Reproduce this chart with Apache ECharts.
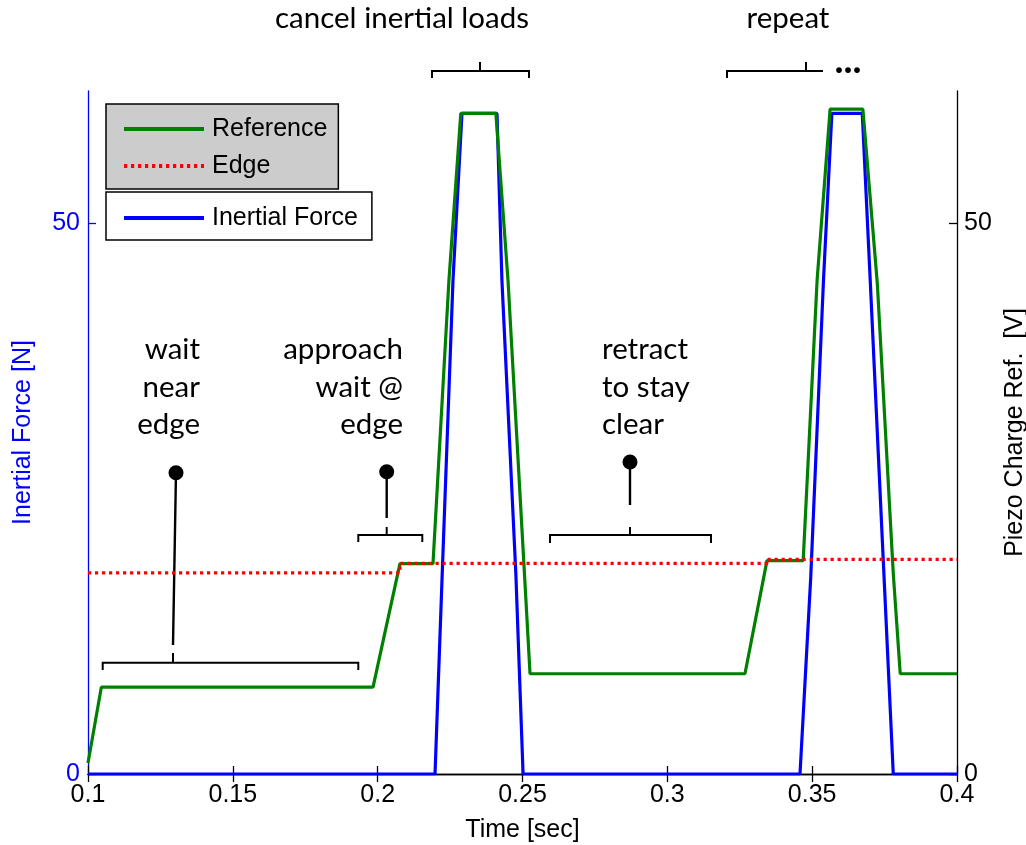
<!DOCTYPE html>
<html>
<head>
<meta charset="utf-8">
<script src="https://cdn.jsdelivr.net/npm/echarts/dist/echarts.min.js"></script>
<style>
  html, body { margin: 0; padding: 0; background: #ffffff; overflow: hidden; }
  #chart { width: 1026px; height: 845px; }
</style>
</head>
<body>
<div id="chart"></div>
<script>
// ---- data ----
const xTicks = [0.1, 0.15, 0.2, 0.25, 0.3, 0.35, 0.4];
const yTicks = [0, 50];

// Inertial Force [N] (left axis)
const forceT = [0.1, 0.2198, 0.2222, 0.2260, 0.2291, 0.2412, 0.2429, 0.2477, 0.2502,
                0.3458, 0.3495, 0.3539, 0.3568, 0.3673, 0.3700, 0.3746, 0.3780, 0.4];
const forceV = [0, 0, 17.56, 44.8, 59.96, 59.96, 44.8, 18.2, 0,
                0, 17.83, 44.8, 59.96, 59.96, 45.05, 19.1, 0, 0];

// Reference [V] (right axis)
const refT = [0.1, 0.1046, 0.1984, 0.2077, 0.2191, 0.2246, 0.2287, 0.2408, 0.2450, 0.2508, 0.2526,
              0.3268, 0.3344, 0.3469, 0.3517, 0.3562, 0.3675, 0.3725, 0.3780, 0.3804, 0.4];
const refV = [1.0, 7.88, 7.88, 19.1, 19.1, 44.8, 59.96, 59.96, 44.8, 17.6, 9.1,
              9.1, 19.37, 19.37, 44.8, 60.36, 60.36, 44.5, 18.2, 9.1, 9.1];

// Edge [V] (right axis)
const edgeT = [0.1, 0.2077, 0.2077, 0.3344, 0.3344, 0.4];
const edgeV = [18.26, 18.26, 19.12, 19.12, 19.48, 19.48];

const pairs = (t, v) => t.map((x, i) => [x, v[i]]);

const AXF = 'Liberation Sans, Arial, sans-serif';
const ANF = 'Lato, sans-serif';
const ANS = 29.5;

const chart = echarts.init(document.getElementById('chart'), null, { renderer: 'canvas' });

function txt(x, y, s, align, font) {
  return {
    type: 'text', x: x, y: y, silent: true,
    style: { text: s, fill: '#000', font: font || (ANS + 'px ' + ANF), textAlign: align, textVerticalAlign: 'middle' }
  };
}
function ln(pts, w) {
  return { type: 'polyline', silent: true, shape: { points: pts },
           style: { stroke: '#000', lineWidth: w || 2, fill: null } };
}
function dot(x, y) {
  return { type: 'circle', silent: true, shape: { cx: x, cy: y, r: 7.5 }, style: { fill: '#000' } };
}

const legendCommon = {
  orient: 'vertical', borderColor: '#000', borderWidth: 1.5,
  itemWidth: 80, itemHeight: 14, itemGap: 9, selectedMode: false,
  itemStyle: { opacity: 0 },
  lineStyle: { width: 4 },
  textStyle: { fontFamily: AXF, fontSize: 25, color: '#000', lineHeight: 28, padding: [0, 0, 0, 3] }
};

const option = {
  backgroundColor: '#ffffff',
  animation: false,
  grid: { left: 88, right: 69, top: 91, bottom: 71, containLabel: false, outerBoundsMode: 'none' },
  xAxis: [
    {
      type: 'value', position: 'bottom', min: 0.1, max: 0.4, interval: 0.05,
      name: 'Time [sec]', nameLocation: 'middle', nameGap: 44,
      nameTextStyle: { fontFamily: AXF, fontSize: 25, color: '#000' },
      axisLine: { show: true, lineStyle: { color: '#000', width: 1.3 } },
      axisTick: { show: true, inside: true, length: 8, lineStyle: { color: '#000', width: 1.3 } },
      axisLabel: { fontFamily: AXF, fontSize: 25, color: '#000', margin: 9,
                   formatter: v => String(+v.toFixed(2)) },
      splitLine: { show: false }
    },
    {
      type: 'value', position: 'top', min: 0.1, max: 0.4, interval: 0.05,
      axisLine: { show: true, lineStyle: { color: '#000', width: 1.3 } },
      axisTick: { show: true, inside: true, length: 8, lineStyle: { color: '#000', width: 1.3 } },
      axisLabel: { show: false },
      splitLine: { show: false }
    }
  ],
  yAxis: [
    {
      type: 'value', position: 'left', min: 0, max: 62, interval: 50,
      name: 'Inertial Force [N]', nameLocation: 'middle', nameGap: 52, nameRotate: 90,
      nameTextStyle: { fontFamily: AXF, fontSize: 25, color: '#0000ff' },
      axisLine: { show: true, lineStyle: { color: '#0000ff', width: 1.3 } },
      axisTick: { show: true, inside: true, length: 8, customValues: yTicks,
                  lineStyle: { color: '#0000ff', width: 1.3 } },
      axisLabel: { fontFamily: AXF, fontSize: 25, color: '#0000ff', margin: 8, customValues: yTicks },
      splitLine: { show: false }
    },
    {
      type: 'value', position: 'right', min: 0, max: 62, interval: 50,
      name: 'Piezo Charge Ref.  [V]', nameLocation: 'middle', nameGap: 38, nameRotate: 90,
      nameTextStyle: { fontFamily: AXF, fontSize: 25, color: '#000' },
      axisLine: { show: true, lineStyle: { color: '#000', width: 1.3 } },
      axisTick: { show: true, inside: true, length: 8, customValues: yTicks,
                  lineStyle: { color: '#000', width: 1.3 } },
      axisLabel: { fontFamily: AXF, fontSize: 25, color: '#000', margin: 7, customValues: yTicks },
      splitLine: { show: false }
    }
  ],
  legend: [
    Object.assign({}, legendCommon, {
      data: ['Reference', 'Edge'], left: 106, top: 104,
      backgroundColor: '#cccccc', padding: [11, 11, 9, 16]
    }),
    Object.assign({}, legendCommon, {
      data: ['Inertial Force'], left: 106, top: 192,
      backgroundColor: '#ffffff', padding: [12, 14, 8, 16]
    })
  ],
  series: [
    {
      name: 'Inertial Force', type: 'line', xAxisIndex: 0, yAxisIndex: 0,
      data: pairs(forceT, forceV), showSymbol: false, symbol: 'none', z: 2,
      lineStyle: { color: '#0000ff', width: 3.2 }, itemStyle: { color: '#0000ff' }
    },
    {
      name: 'Reference', type: 'line', xAxisIndex: 0, yAxisIndex: 1,
      data: pairs(refT, refV), showSymbol: false, symbol: 'none', z: 3,
      lineStyle: { color: '#008000', width: 3.2 }, itemStyle: { color: '#008000' }
    },
    {
      name: 'Edge', type: 'line', xAxisIndex: 0, yAxisIndex: 1,
      data: pairs(edgeT, edgeV), showSymbol: false, symbol: 'none', z: 4,
      lineStyle: { color: '#ff0000', width: 3.2, type: [3.2, 3.8] }, itemStyle: { color: '#ff0000' }
    }
  ],
  graphic: [
    // top annotations
    txt(402, 18.5, 'cancel inertial loads', 'center'),
    ln([[432, 78], [432, 71], [529, 71], [529, 78]]),
    ln([[480, 71], [480, 62]]),
    txt(788, 18.5, 'repeat', 'center'),
    ln([[727, 78], [727, 71], [823, 71]]),
    ln([[806, 71], [806, 62]]),
    txt(848, 61, '...', 'center', 'bold 38px ' + ANF),
    // wait near edge
    txt(200, 349, 'wait', 'right'),
    txt(200, 387, 'near', 'right'),
    txt(200, 424, 'edge', 'right'),
    dot(176, 472.7),
    ln([[176, 472], [173, 645]], 2.4),
    ln([[173, 653], [173, 662.7]]),
    ln([[102.7, 670], [102.7, 662.7], [358.3, 662.7], [358.3, 670]]),
    // approach wait @ edge
    txt(403, 349, 'approach', 'right'),
    txt(403, 387, 'wait @', 'right'),
    txt(403, 424, 'edge', 'right'),
    dot(386.7, 471.7),
    ln([[386.7, 471], [386.7, 518]], 2.4),
    ln([[386.7, 527], [386.7, 535]]),
    ln([[358.3, 542], [358.3, 535], [422.3, 535], [422.3, 542]]),
    // retract to stay clear
    txt(602, 349, 'retract', 'left'),
    txt(602, 387, 'to stay', 'left'),
    txt(602, 424, 'clear', 'left'),
    dot(630, 462),
    ln([[630, 462], [630, 505]], 2.4),
    ln([[630, 527], [630, 535]]),
    ln([[550, 543], [550, 535], [711, 535], [711, 543]])
  ]
};

chart.setOption(option);
</script>
</body>
</html>
